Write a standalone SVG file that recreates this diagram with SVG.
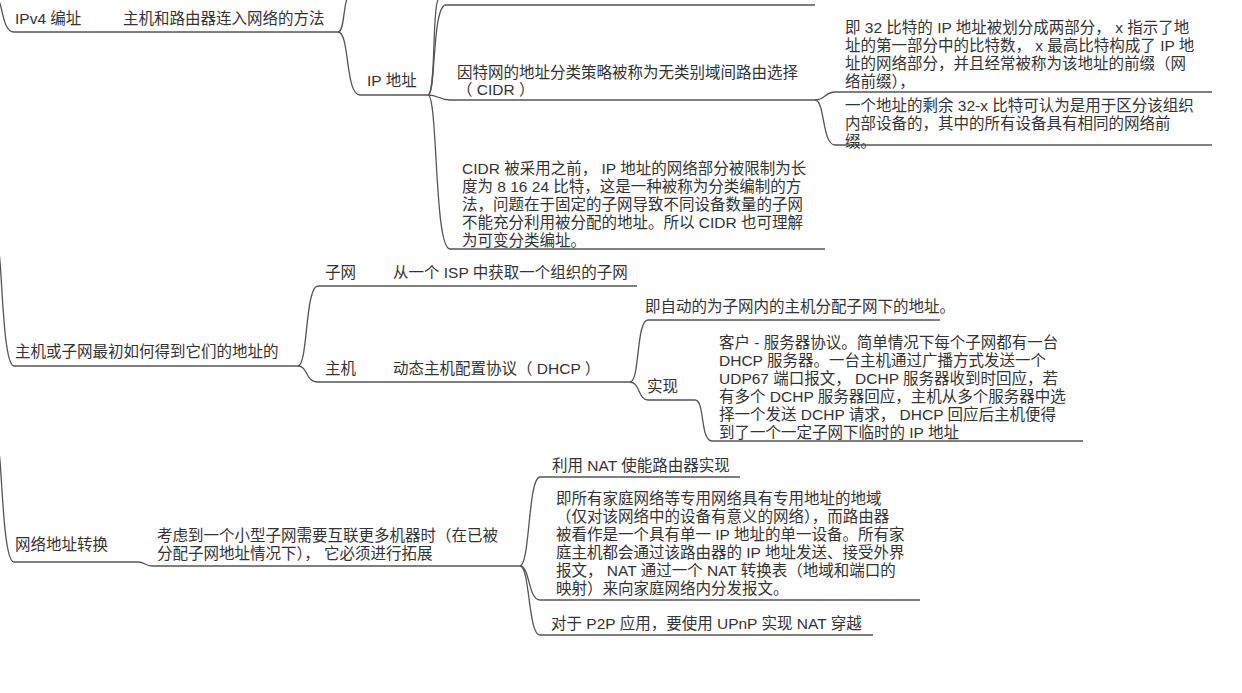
<svg xmlns="http://www.w3.org/2000/svg" width="1242" height="693" viewBox="0 0 1242 693">
<style>
text{font-family:"Liberation Sans","Noto Sans CJK SC",sans-serif;font-size:15.5px;fill:#333}
.l{fill:none;stroke:#555;stroke-width:1.3}
</style>
<rect width="1242" height="693" fill="#fff"/>
<g id="connectors" class="l">
<path d="M-2,0 C2,0 2,32 14,32 H338"/>
<path d="M-2,250 C2,250 2,366 14,366 H298"/>
<path d="M-2,450 C2,450 2,562 14,562 H138 C145,562 145,566 152,566 H520"/>
<path d="M338,32 C345,32 343,0 349,-5"/>
<path d="M338,32 C350,32 345,95 360,95 H428"/>
<path d="M428,95 C436,95 432,10 438,0"/>
<path d="M428,95 C436,95 432,5 446,5 H815"/>
<path d="M428,95 C438,95 440,100 450,100 H815"/>
<path d="M428,95 C438,95 434,249 450,249 H825"/>
<path d="M815,100 C825,100 825,92 835,92 H1212"/>
<path d="M815,100 C825,100 822,145 835,145 H1212"/>
<path d="M298,366 C308,366 305,286 318,286 H637"/>
<path d="M298,366 C308,366 305,382 318,382 H630"/>
<path d="M630,382 C640,382 636,320 648,320 H940"/>
<path d="M630,382 C640,382 638,400 648,400 H695"/>
<path d="M695,400 C705,400 700,441 712,441 H1083"/>
<path d="M520,566 C530,566 528,477 540,477 H740"/>
<path d="M520,566 C530,566 528,600 540,600 H920"/>
<path d="M520,566 C530,566 528,635 540,635 H873"/>
</g>
<g id="n-ipv4"><text x="15" y="24">IPv4 编址</text></g>
<g id="n-method"><text x="123" y="24">主机和路由器连入网络的方法</text></g>
<g id="n-ip"><text x="367" y="86">IP 地址</text></g>
<g id="n-cidr"><text x="457" y="78">因特网的地址分类策略被称为无类别域间路由选择</text><text x="457" y="95">（ CIDR ）</text></g>
<g id="n-prefix"><text x="845" y="33">即 32 比特的 IP 地址被划分成两部分， x 指示了地</text><text x="845" y="51">址的第一部分中的比特数， x 最高比特构成了 IP 地</text><text x="845" y="69">址的网络部分，并且经常被称为该地址的前缀（网</text><text x="845" y="87">络前缀），</text></g>
<g id="n-rest"><text x="845" y="111">一个地址的剩余 32-x 比特可认为是用于区分该组织</text><text x="845" y="129">内部设备的，其中的所有设备具有相同的网络前</text><text x="845" y="147">缀。</text></g>
<g id="n-before"><text x="462" y="174">CIDR 被采用之前， IP 地址的网络部分被限制为长</text><text x="462" y="192">度为 8 16 24 比特，这是一种被称为分类编制的方</text><text x="462" y="210">法，问题在于固定的子网导致不同设备数量的子网</text><text x="462" y="228">不能充分利用被分配的地址。所以 CIDR 也可理解</text><text x="462" y="246">为可变分类编址。</text></g>
<g id="n-how"><text x="15" y="357">主机或子网最初如何得到它们的地址的</text></g>
<g id="n-subnet"><text x="325" y="278">子网</text></g>
<g id="n-isp"><text x="393" y="278">从一个 ISP 中获取一个组织的子网</text></g>
<g id="n-host"><text x="325" y="374">主机</text></g>
<g id="n-dhcp"><text x="393" y="374">动态主机配置协议（ DHCP ）</text></g>
<g id="n-auto"><text x="645" y="312">即自动的为子网内的主机分配子网下的地址。</text></g>
<g id="n-impl"><text x="647" y="392">实现</text></g>
<g id="n-impl-d"><text x="719" y="348">客户 - 服务器协议。简单情况下每个子网都有一台</text><text x="719" y="366">DHCP 服务器。一台主机通过广播方式发送一个</text><text x="719" y="384">UDP67 端口报文， DCHP 服务器收到时回应，若</text><text x="719" y="402">有多个 DCHP 服务器回应，主机从多个服务器中选</text><text x="719" y="420">择一个发送 DCHP 请求， DHCP 回应后主机便得</text><text x="719" y="438">到了一个一定子网下临时的 IP 地址</text></g>
<g id="n-nat"><text x="15" y="550">网络地址转换</text></g>
<g id="n-consider"><text x="157" y="541">考虑到一个小型子网需要互联更多机器时（在已被</text><text x="157" y="559">分配子网地址情况下）， 它必须进行拓展</text></g>
<g id="n-use"><text x="552" y="471">利用 NAT 使能路由器实现</text></g>
<g id="n-home"><text x="556" y="504">即所有家庭网络等专用网络具有专用地址的地域</text><text x="556" y="522">（仅对该网络中的设备有意义的网络），而路由器</text><text x="556" y="540">被看作是一个具有单一 IP 地址的单一设备。所有家</text><text x="556" y="558">庭主机都会通过该路由器的 IP 地址发送、接受外界</text><text x="556" y="576">报文， NAT 通过一个 NAT 转换表（地域和端口的</text><text x="556" y="594">映射）来向家庭网络内分发报文。</text></g>
<g id="n-p2p"><text x="551" y="629">对于 P2P 应用，要使用 UPnP 实现 NAT 穿越</text></g>
</svg>
